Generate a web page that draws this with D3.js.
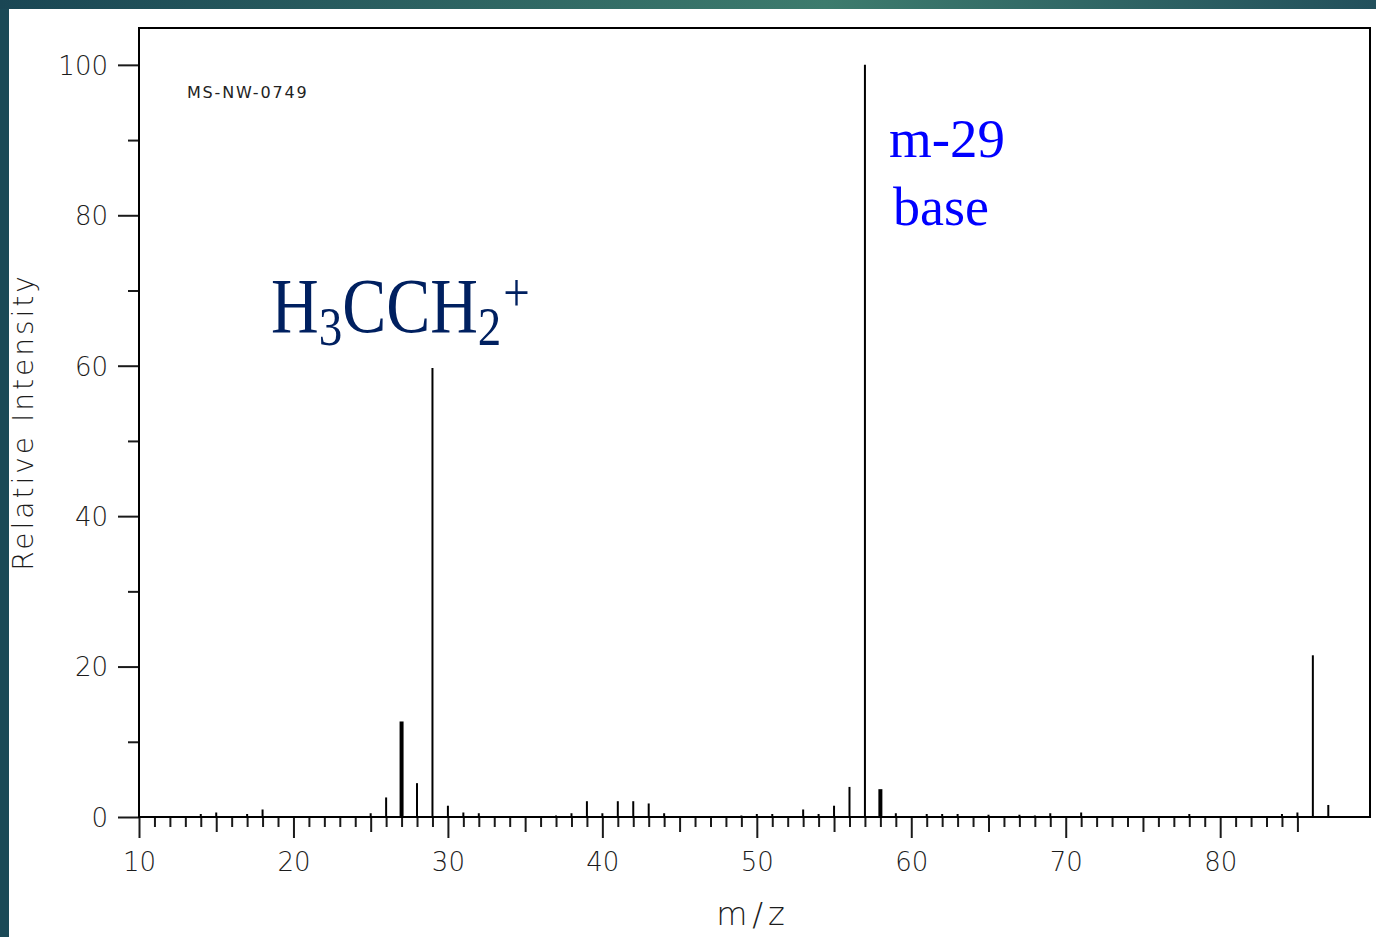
<!DOCTYPE html>
<html>
<head>
<meta charset="utf-8">
<script src="https://cdn.jsdelivr.net/npm/d3@7"></script>
<style>
  html, body { margin: 0; padding: 0; background: #fff; }
  svg { display: block; }
</style>
</head>
<body>
<svg id="chart" width="1376" height="937"></svg>
<script>
// Mass spectrum of 3-pentanone (MS-NW-0749): m/z and relative intensity
const mz = [14, 15, 17, 18, 25, 26, 27, 28, 29, 30, 31, 32, 37, 38, 39, 40, 41, 42, 43, 44,
            49, 50, 51, 53, 54, 55, 56, 57, 58, 59, 61, 62, 63, 65, 67, 68, 69, 71, 78, 84,
            85, 86, 87];
const intensity = [0.4, 0.6, 0.4, 1.0, 0.5, 2.6, 12.7, 4.5, 59.7, 1.5, 0.6, 0.5, 0.2, 0.5, 2.1, 0.5, 2.1, 2.1, 1.8, 0.5,
                   0.2, 0.4, 0.4, 1.0, 0.4, 1.5, 4.0, 100, 3.7, 0.5, 0.4, 0.4, 0.4, 0.3, 0.3, 0.2, 0.5, 0.6, 0.4, 0.4,
                   0.6, 21.5, 1.6];
const xTicks = d3.range(10, 86);          // one tick per mass unit
const xTickLabels = [10, 20, 30, 40, 50, 60, 70, 80];
const yTicks = d3.range(0, 101, 10);
const yTickLabels = [0, 20, 40, 60, 80, 100];
const spectrumId = "MS-NW-0749";
const xTitle = "m/z";
const yTitle = "Relative Intensity";

const svg = d3.select("#chart");
const W = 1376, H = 937;

// slide backdrop: teal band along the top and left
const defs = svg.append("defs");
const grad = defs.append("linearGradient").attr("id", "band")
  .attr("x1", "0%").attr("x2", "100%").attr("y1", "0%").attr("y2", "0%");
grad.append("stop").attr("offset", "0%").attr("stop-color", "#1a4654");
grad.append("stop").attr("offset", "60%").attr("stop-color", "#3d7b6d");
grad.append("stop").attr("offset", "100%").attr("stop-color", "#23505c");
svg.append("rect").attr("width", W).attr("height", H).attr("fill", "url(#band)");
svg.append("rect").attr("x", 0).attr("y", 9).attr("width", 9).attr("height", H - 9).attr("fill", "#1b4a57");
svg.append("rect").attr("x", 9).attr("y", 9).attr("width", W - 9).attr("height", H - 9).attr("fill", "#ffffff");

const plotL = 139, plotR = 1370, plotT = 28, plotB = 817;
const x = d3.scaleLinear().domain([10, 89.7]).range([plotL, plotR]);
const y = d3.scaleLinear().domain([0, 104.9]).range([plotB, plotT]);

const ink = "#1a1a1a";
const textInk = "#1c1c1c";
const labelFont = "'DejaVu Sans', Verdana, sans-serif";

// x axis ticks (below the baseline), longer at multiples of 5 and 10
const xAxis = svg.append("g").attr("transform", `translate(0,${plotB})`)
  .call(d3.axisBottom(x).tickValues(xTicks).tickSizeOuter(0)
    .tickFormat(d => xTickLabels.includes(d) ? d : ""));
xAxis.select(".domain").remove();
xAxis.selectAll(".tick line")
  .attr("y2", d => d % 10 === 0 ? 21 : (d % 5 === 0 ? 15 : 10))
  .attr("stroke", ink).attr("stroke-width", 2);
xAxis.selectAll(".tick text")
  .attr("y", 0).attr("dy", null)
  .attr("transform", "translate(0,53.5)")
  .attr("font-family", labelFont).attr("font-size", 26).attr("font-weight", 300)
  .attr("fill", textInk);

// y axis ticks (left of the frame)
const yAxis = svg.append("g").attr("transform", `translate(${plotL},0)`)
  .call(d3.axisLeft(y).tickValues(yTicks).tickSizeOuter(0)
    .tickFormat(d => yTickLabels.includes(d) ? d : ""));
yAxis.select(".domain").remove();
yAxis.selectAll(".tick line")
  .attr("x2", d => d % 20 === 0 ? -21 : -11)
  .attr("stroke", ink).attr("stroke-width", 2);
yAxis.selectAll(".tick text")
  .attr("x", -31).attr("dy", "0.36em")
  .attr("text-anchor", "end")
  .attr("font-family", labelFont).attr("font-size", 26).attr("font-weight", 300)
  .attr("fill", textInk);

// plot frame
svg.append("rect")
  .attr("x", plotL).attr("y", plotT)
  .attr("width", plotR - plotL).attr("height", plotB - plotT)
  .attr("fill", "none").attr("stroke", "#000").attr("stroke-width", 2);

// spectrum sticks
const heavy = new Set([27, 58]);
svg.append("g").selectAll("line")
  .data(mz.map((m, i) => ({ m, v: intensity[i] })))
  .join("line")
  .attr("x1", d => x(d.m)).attr("x2", d => x(d.m))
  .attr("y1", y(0)).attr("y2", d => y(d.v))
  .attr("stroke", "#000")
  .attr("stroke-width", d => heavy.has(d.m) ? 4 : 2);

// spectrum id
svg.append("text")
  .attr("x", 187).attr("y", 98)
  .attr("font-family", labelFont).attr("font-size", 16)
  .attr("letter-spacing", 1.8).attr("fill", "#222")
  .text(spectrumId);

// axis titles
svg.append("text")
  .attr("x", 753).attr("y", 925)
  .attr("text-anchor", "middle")
  .attr("font-family", labelFont).attr("font-size", 32).attr("font-weight", 300)
  .attr("letter-spacing", 5).attr("fill", textInk)
  .text(xTitle);

svg.append("text")
  .attr("transform", "translate(33,422) rotate(-90)")
  .attr("text-anchor", "middle")
  .attr("font-family", labelFont).attr("font-size", 28).attr("font-weight", 300)
  .attr("letter-spacing", 3).attr("fill", textInk)
  .text(yTitle);

// annotations
const serif = "'Liberation Serif', 'Times New Roman', serif";
const ion = svg.append("text")
  .attr("transform", "translate(271,332) scale(1,1.17)")
  .attr("font-family", serif).attr("font-size", 66).attr("fill", "#002060");
ion.append("tspan").text("H");
ion.append("tspan").attr("font-size", 47).attr("dy", 11).text("3");
ion.append("tspan").attr("dy", -11).text("CCH");
ion.append("tspan").attr("font-size", 47).attr("dy", 11).text("2");
ion.append("tspan").attr("font-size", 47).attr("dx", 2).attr("dy", -29).text("+");

svg.append("text")
  .attr("x", 889).attr("y", 157)
  .attr("font-family", serif).attr("font-size", 55).attr("fill", "#0000ff")
  .text("m-29");
svg.append("text")
  .attr("x", 893).attr("y", 225)
  .attr("font-family", serif).attr("font-size", 54).attr("fill", "#0000ff")
  .text("base");
</script>
</body>
</html>
